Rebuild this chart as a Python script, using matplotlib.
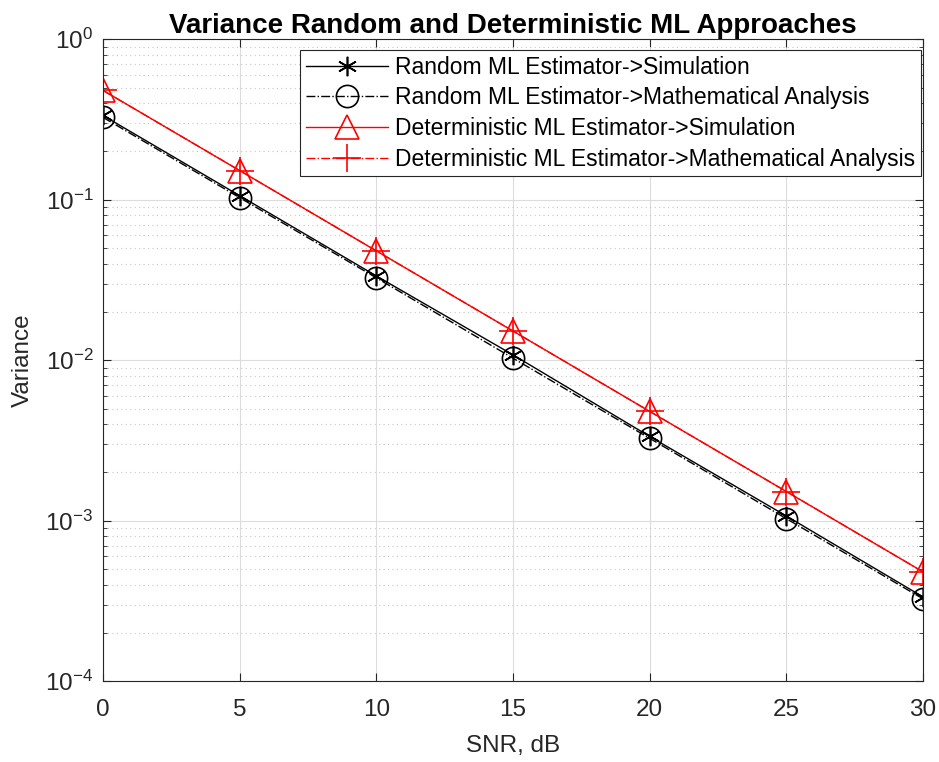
import matplotlib
matplotlib.use("Agg")
import matplotlib.pyplot as plt

plt.rcParams['font.family'] = ['Liberation Sans', 'DejaVu Sans']
plt.rcParams['axes.unicode_minus'] = False

snr = [0, 5, 10, 15, 20, 25, 30]
rand_sim = [0.335, 0.106, 0.0335, 0.0108, 0.00335, 0.00107, 0.000335]
rand_ana = [0.326, 0.103, 0.0326, 0.0103, 0.00326, 0.00103, 0.000326]
det_sim = [0.48, 0.152, 0.048, 0.0152, 0.0048, 0.00152, 0.00048]
det_ana = [0.48, 0.152, 0.048, 0.0152, 0.0048, 0.00152, 0.00048]

fig = plt.figure(figsize=(9.39, 7.62), dpi=100)
ax = fig.add_axes([0.1097, 0.106, 0.8733, 0.8425])

ax.semilogy(snr, rand_sim, 'k-', marker=(6, 2, 0), markersize=14, markeredgewidth=1.2,
            lw=1.0, label='Random ML Estimator->Simulation')
ax.semilogy(snr, rand_ana, 'k-.', marker='o', markersize=16, markerfacecolor='none',
            markeredgewidth=1.2, lw=1.0, label='Random ML Estimator->Mathematical Analysis')
ax.semilogy(snr, det_sim, 'r-', marker='^', markersize=17, markerfacecolor='none',
            markeredgewidth=1.2, lw=1.0, label='Deterministic ML Estimator->Simulation')
ax.semilogy(snr, det_ana, 'r-.', marker='+', markersize=20, markeredgewidth=1.2,
            lw=1.0, label='Deterministic ML Estimator->Mathematical Analysis')

ax.set_xlim(0, 30)
ax.set_ylim(1e-4, 1)
ax.set_xticks(snr)
ax.grid(True, which='major', color='#dcdcdc', lw=0.8, ls='-')
ax.grid(True, which='minor', color='#c8c8c8', lw=0.8, ls=(0, (1, 3)))
ax.set_axisbelow(True)
ax.tick_params(which='both', direction='in', top=True, right=True, labelsize=17.5,
               colors='#262626')
ax.tick_params(which='major', length=6, pad=7)
ax.tick_params(which='minor', length=3)
ax.tick_params(axis='x', which='major', pad=13)
for s in ax.spines.values():
    s.set_color('#262626')

ax.set_xlabel('SNR, dB', fontsize=17.5, color='#262626', labelpad=10)
ax.set_ylabel('Variance', fontsize=17.5, color='#262626', labelpad=8)
ax.set_title('Variance Random and Deterministic ML Approaches', fontsize=20,
             fontweight='bold', pad=3)

leg = ax.legend(loc='upper right', bbox_to_anchor=(0.9976, 0.983), fontsize=16.5,
                fancybox=False, edgecolor='#262626', framealpha=1,
                handlelength=3.6, borderaxespad=0, labelspacing=0.33,
                handletextpad=0.3, borderpad=0.25)
leg.get_frame().set_linewidth(0.8)

fig.savefig('out.png', dpi=100)
